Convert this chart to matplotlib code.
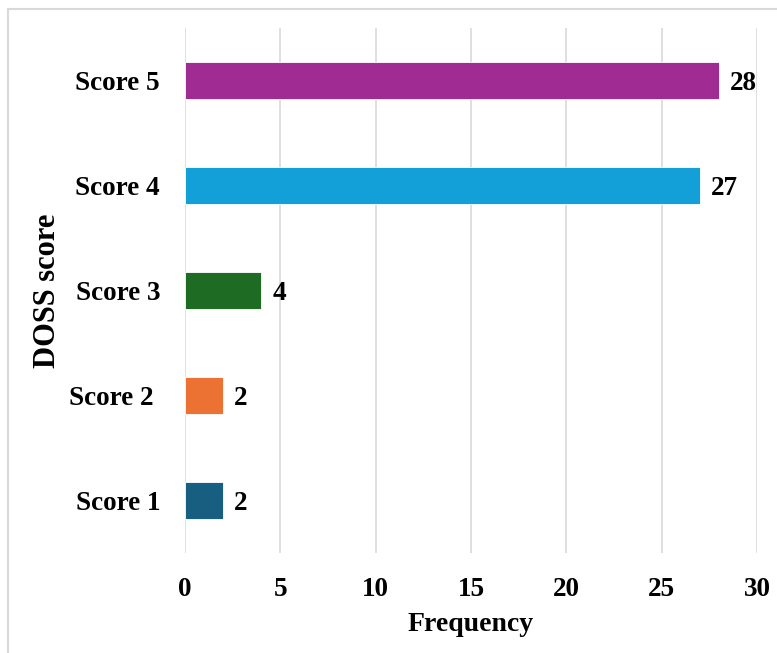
import matplotlib
matplotlib.use("Agg")
import matplotlib.pyplot as plt
from matplotlib.lines import Line2D

# data
categories = ["Score 1", "Score 2 ", "Score 3", "Score 4", "Score 5"]
frequency = [2, 2, 4, 27, 28]
bar_colors = ["#175e80", "#ec7233", "#1e6b24", "#13a0d8", "#a02b93"]
x_ticks = [0, 5, 10, 15, 20, 25, 30]

plt.rcParams['font.family'] = ['Liberation Serif', 'DejaVu Serif']
plt.rcParams['font.weight'] = 'bold'
fs = 19.5

fig = plt.figure(figsize=(7.77, 6.53), dpi=100)
ax = fig.add_axes([185 / 777, 1 - 553 / 653, 572 / 777, 525 / 653])

ypos = list(range(len(categories)))
bars = ax.barh(ypos, frequency, height=0.35, color=bar_colors,
               edgecolor='white', linewidth=0.6, zorder=3)

for b, v in zip(bars, frequency):
    ax.annotate(str(v), (b.get_width(), b.get_y() + b.get_height() / 2),
                xytext=(8, 0), textcoords='offset points',
                va='center_baseline', ha='left', fontsize=fs, fontweight='bold')

ax.set_xlim(0, 30)
ax.set_ylim(-0.5, len(categories) - 0.5)
ax.set_xticks(x_ticks)
ax.set_xticklabels([str(t) for t in x_ticks], fontsize=fs, fontweight='bold')
ax.set_yticks(ypos)
ax.set_yticklabels(categories, fontsize=fs, fontweight='bold')
ax.tick_params(axis='both', length=0)
ax.tick_params(axis='y', pad=18)
ax.tick_params(axis='x', pad=17)

ax.grid(axis='x', color='#d9d9d9', linewidth=1.2, zorder=0)
for s in ax.spines.values():
    s.set_visible(False)

ax.set_xlabel("Frequency", fontsize=20, fontweight='bold')
ax.set_ylabel("DOSS score", fontsize=22, fontweight='bold')
ax.xaxis.label.set_va('center')
ax.yaxis.label.set_va('center')
ax.xaxis.set_label_coords(0.5, -0.137)
ax.yaxis.set_label_coords(-0.241, 0.5)

# light frame around the chart (cut at right and bottom in the reference)
fx0 = 8 / 777
fy0 = 1 - 8.5 / 653
fig.add_artist(Line2D([fx0, 1.0], [fy0, fy0], transform=fig.transFigure,
                      color='#d9d9d9', linewidth=1.5))
fig.add_artist(Line2D([fx0, fx0], [0.0, fy0], transform=fig.transFigure,
                      color='#d9d9d9', linewidth=1.5))

fig.savefig("out.png", dpi=100)
